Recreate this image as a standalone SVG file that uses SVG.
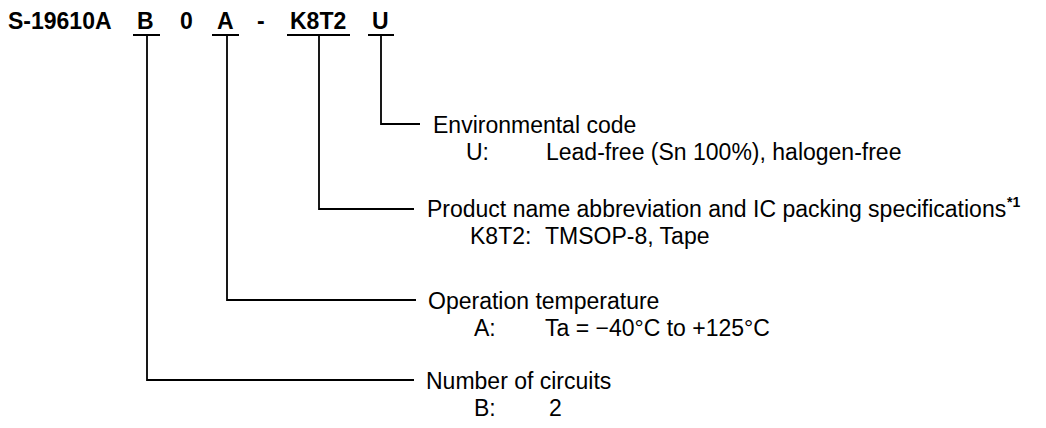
<svg xmlns="http://www.w3.org/2000/svg" width="1046" height="428" viewBox="0 0 1046 428">
<style>
text{font-family:"Liberation Sans",Arial,sans-serif;font-size:23px;fill:#000}
.b{font-weight:bold}
.sup{font-weight:bold;font-size:14px}
.ln{fill:none;stroke:#000;stroke-width:1.8}
</style>
<rect width="1046" height="428" fill="#fff"/>
<g id="code">
<text class="b" x="8" y="29">S-19610A</text>
<text class="b" x="137" y="29">B</text>
<text class="b" x="180" y="29">0</text>
<text class="b" x="217" y="29">A</text>
<text class="b" x="257" y="29">-</text>
<text class="b" x="290" y="29">K8T2</text>
<text class="b" x="372" y="29">U</text>
</g>
<g id="connectors">
<path class="ln" d="M133 35H160M212 35H239M287 35H350M368 35H394"/>
<path class="ln" d="M381 35V124H420"/>
<path class="ln" d="M319 35V209H414"/>
<path class="ln" d="M227 35V300H416"/>
<path class="ln" d="M147 35V380H414"/>
</g>
<g id="env">
<text x="433" y="133">Environmental code</text>
<text x="466" y="160">U:</text>
<text x="546" y="160">Lead-free (Sn 100%), halogen-free</text>
</g>
<g id="pkg">
<text x="427" y="217">Product name abbreviation and IC packing specifications</text>
<text class="sup" x="1007" y="207">*1</text>
<text x="470" y="244">K8T2:</text>
<text x="545" y="244">TMSOP-8, Tape</text>
</g>
<g id="temp">
<text x="428" y="309">Operation temperature</text>
<text x="474" y="336">A:</text>
<text x="545" y="336">Ta = −40°C to +125°C</text>
</g>
<g id="circ">
<text x="426" y="389">Number of circuits</text>
<text x="474" y="416">B:</text>
<text x="549" y="416">2</text>
</g>
</svg>
